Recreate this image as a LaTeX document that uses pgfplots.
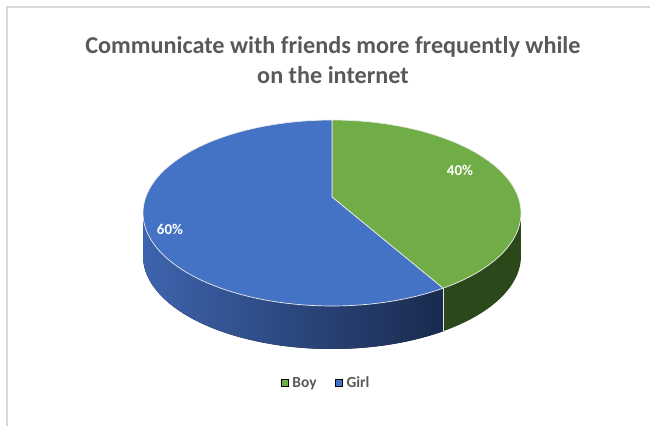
\documentclass[border=0pt]{standalone}
\usepackage{fontspec}
\setmainfont{Carlito}
\usepackage{pgfplots}
\pgfplotsset{compat=1.18}
\usepackage{pgfplotstable}
\usepgfplotslibrary{fillbetween}
\definecolor{boyc}{HTML}{70AD47}
\definecolor{girlc}{HTML}{4472C4}
\definecolor{boyside}{HTML}{2C4719}
\definecolor{girlsideL}{HTML}{3D64AE}
\definecolor{girlsideR}{HTML}{1A2A4E}
\definecolor{txtgray}{HTML}{595959}
\definecolor{framec}{HTML}{D9D9D9}

\pgfplotstableread{
name value
Boy 40
Girl 60
}\piedata
\pgfplotstablegetelem{0}{value}\of\piedata \let\boyv\pgfplotsretval
\pgfplotstablegetelem{1}{value}\of\piedata \let\girlv\pgfplotsretval
\pgfmathsetmacro\tb{90-3.6*\boyv}
\pgfmathsetmacro\tbp{\tb+360}
\def\cx{332}\def\cy{213}\def\rx{189}\def\ry{93}\def\dep{43}
\def\ax{332}\def\ay{229}

\begin{document}
\begin{tikzpicture}
\begin{axis}[
  at={(0,0)}, anchor=south west,
  width=650bp, height=426bp, scale only axis,
  xmin=0, xmax=650, ymin=0, ymax=426,
  axis lines=none, clip=false,
  legend style={draw=none, fill=none, at={(axis cs:326,43)}, anchor=center,
    font=\fontsize{15.5}{17}\selectfont\bfseries, text=txtgray,
    /tikz/every odd column/.append style={column sep=2.5bp},
    /tikz/every even column/.append style={column sep=16bp}},
  legend columns=2,
  legend image code/.code={\fill[#1] (0bp,-3.5bp) rectangle (7bp,3.5bp);},
]
% side faces
\addplot[draw=none, name path=gt, domain=180:\tbp, samples=80, variable=\t, forget plot]
  ({\cx+\rx*cos(t)},{\cy+\ry*sin(t)});
\addplot[draw=none, name path=gb, domain=180:\tbp, samples=80, variable=\t, forget plot]
  ({\cx+\rx*cos(t)},{\cy-\dep+\ry*sin(t)});
\addplot[left color=girlsideL, right color=girlsideR, draw=none, forget plot] fill between[of=gt and gb];
\addplot[draw=none, name path=bt, domain=\tbp:360, samples=40, variable=\t, forget plot]
  ({\cx+\rx*cos(t)},{\cy+\ry*sin(t)});
\addplot[draw=none, name path=bb, domain=\tbp:360, samples=40, variable=\t, forget plot]
  ({\cx+\rx*cos(t)},{\cy-\dep+\ry*sin(t)});
\addplot[fill=boyside, draw=none, forget plot] fill between[of=bt and bb];
% top faces
\addplot[fill=boyc, draw=white!85!gray, line width=0.7pt, domain=\tb:90, samples=80, variable=\t, forget plot]
  ({\cx+\rx*cos(t)},{\cy+\ry*sin(t)}) -- (axis cs:\ax,\ay) -- cycle;
\addplot[fill=girlc, draw=white!85!gray, line width=0.7pt, domain=90:\tbp, samples=120, variable=\t, forget plot]
  ({\cx+\rx*cos(t)},{\cy+\ry*sin(t)}) -- (axis cs:\ax,\ay) -- cycle;
% boundary on side
\addplot[draw=white!85!gray, line width=0.7pt, samples=2, domain=0:1, variable=\t, forget plot]
  ({\cx+\rx*cos(\tb)},{\cy+\ry*sin(\tb)-\dep*t});
% labels
\node[text=white, font=\fontsize{15}{17}\selectfont\bfseries] at (axis cs:460,256) {40\%};
\node[text=white, font=\fontsize{15}{17}\selectfont\bfseries] at (axis cs:170,197) {60\%};
% title
\node[text=txtgray, align=center, font=\fontsize{24.3}{30}\selectfont\bfseries] at (axis cs:333,366)
  {Communicate with friends more frequently while\\on the internet};
% legend
\addlegendimage{fill=boyc}\addlegendentry{Boy}
\addlegendimage{fill=girlc}\addlegendentry{Girl}
% frame
\draw[framec, line width=1.2pt] (axis cs:7,0) -- (axis cs:7,419) -- (axis cs:650,419);
\end{axis}
\pgfresetboundingbox
\path (0,0) rectangle (650bp,426bp);
\end{tikzpicture}
\end{document}
